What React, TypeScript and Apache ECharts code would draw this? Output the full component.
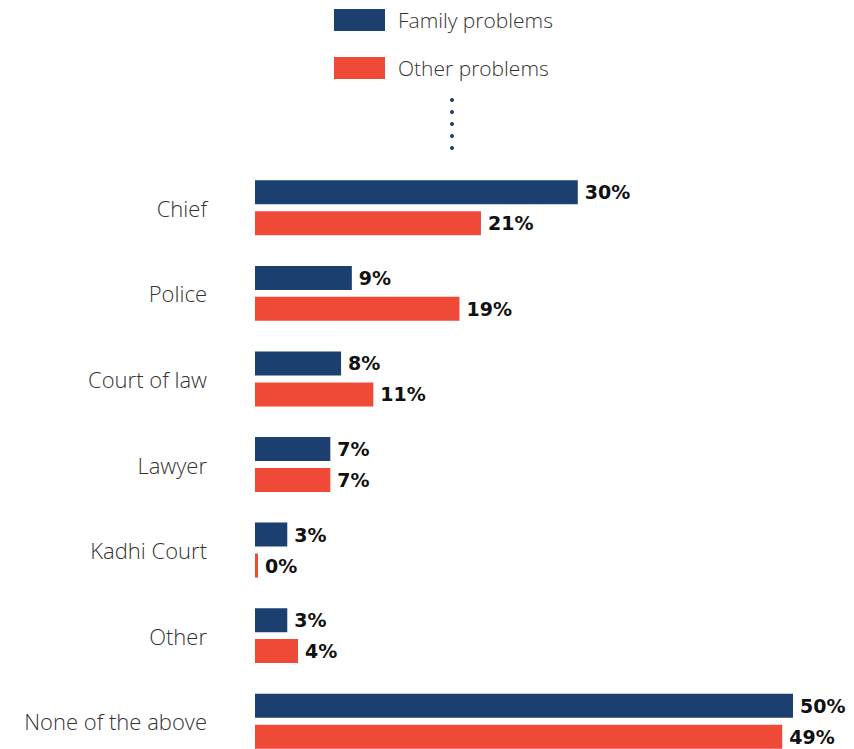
import React, { useEffect, useRef } from "react";
import * as echarts from "echarts";

const categories = ["Chief", "Police", "Court of law", "Lawyer", "Kadhi Court", "Other", "None of the above"];
const familyProblems = [30, 9, 8, 7, 3, 3, 50];
const otherProblems = [21, 19, 11, 7, 0, 4, 49];
const seriesNames = ["Family problems", "Other problems"];

const BLUE = "#1b3f6f";
const RED = "#ef4a37";
const FONT = "'Open Sans', 'Noto Sans', sans-serif";
const BOLD_FONT = "'DejaVu Sans', 'Open Sans', sans-serif";

export default function App() {
  const ref = useRef<HTMLDivElement>(null);
  useEffect(() => {
    document.body.style.margin = "0";
    const chart = echarts.init(ref.current!, null, { renderer: "svg" });
    const valueLabel = {
      show: true,
      position: "right" as const,
      distance: 7,
      formatter: "{c}%",
      color: "#111",
      fontSize: 19,
      fontWeight: "bold" as const,
      fontFamily: BOLD_FONT,
    };
    chart.setOption({
      animation: false,
      backgroundColor: "#fff",
      legend: {
        orient: "vertical",
        left: 329,
        top: 4,
        itemWidth: 51,
        itemHeight: 22,
        itemGap: 26,
        icon: "rect",
        textStyle: { fontSize: 21, color: "#333", fontFamily: FONT, fontWeight: 300, padding: [3, 0, 0, 8] },
        data: seriesNames,
      },
      grid: { left: 255, width: 538, top: 165, height: 599, outerBoundsMode: "none", containLabel: false },
      xAxis: {
        type: "value",
        min: 0,
        max: 50,
        show: false,
      },
      yAxis: {
        type: "category",
        data: categories,
        inverse: true,
        axisLine: { show: false },
        axisTick: { show: false },
        splitLine: { show: false },
        axisLabel: { margin: 48, fontSize: 22, color: "#333", fontFamily: FONT, fontWeight: 300 },
      },
      graphic: [0, 1, 2, 3, 4].map((i) => ({
        type: "circle",
        shape: { cx: 452, cy: 100 + i * 12, r: 2 },
        style: { fill: BLUE },
      })),
      series: [
        {
          name: seriesNames[0],
          type: "bar",
          data: familyProblems,
          barWidth: 24,
          barGap: "29%",
          itemStyle: { color: BLUE },
          label: valueLabel,
        },
        {
          name: seriesNames[1],
          type: "bar",
          data: otherProblems,
          barWidth: 24,
          barMinHeight: 3,
          itemStyle: { color: RED },
          label: valueLabel,
        },
      ],
    });
    return () => chart.dispose();
  }, []);
  return <div ref={ref} style={{ width: 854, height: 749 }} />;
}
